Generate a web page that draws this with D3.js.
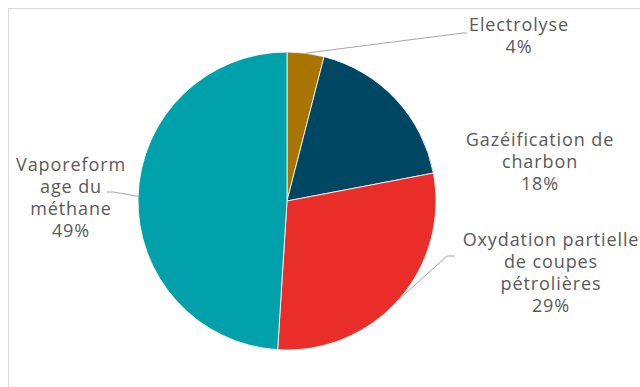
<!DOCTYPE html>
<html>
<head>
<meta charset="utf-8">
<script src="https://cdn.jsdelivr.net/npm/d3@7/dist/d3.min.js"></script>
<style>
  html, body { margin: 0; padding: 0; background: #fff; }
  svg { display: block; }
</style>
</head>
<body>
<svg id="chart" width="640" height="387"></svg>
<script>
// Hydrogen production routes, share of output
const categories = ["Electrolyse", "Gazéification de charbon", "Oxydation partielle de coupes pétrolières", "Vaporeformage du méthane"];
const values = [4, 18, 29, 49];
const labelLines = [
  ["Electrolyse"],
  ["Gazéification de", "charbon"],
  ["Oxydation partielle", "de coupes", "pétrolières"],
  ["Vaporeform", "age du", "méthane"]
];
const colors = ["#a87503", "#004764", "#e92e29", "#00a1aa"];

// label block layout: centre x, first baseline y, leader elbow (x, y), horizontal tail end x
const labelLayout = [
  { x: 519, y: 30.5, elbow: [463, 33], tailX: 467 },
  { x: 540, y: 146, elbow: null },
  { x: 551, y: 246, elbow: [447, 256], tailX: 455 },
  { x: 71, y: 170.5, elbow: [113, 192], tailX: 107 }
];

const width = 640, height = 387;
const cx = 287, cy = 201, radius = 149;
const svg = d3.select("#chart");

// frame
svg.append("rect")
  .attr("x", 8.5).attr("y", 8.5)
  .attr("width", 640).attr("height", 400)
  .attr("fill", "none")
  .attr("stroke", "#d9d9d9")
  .attr("stroke-width", 1);

const pie = d3.pie().sort(null).value(d => d)(values);
const arc = d3.arc().innerRadius(0).outerRadius(radius);

const g = svg.append("g").attr("transform", `translate(${cx},${cy})`);

g.selectAll("path.slice")
  .data(pie)
  .join("path")
  .attr("class", "slice")
  .attr("d", arc)
  .attr("fill", (d, i) => colors[i])
  .attr("stroke", "#fff")
  .attr("stroke-width", 0.8);

// leader lines from slice edge at mid-angle
pie.forEach((d, i) => {
  const L = labelLayout[i];
  if (!L.elbow) return;
  const a = (d.startAngle + d.endAngle) / 2;
  const sx = cx + radius * Math.sin(a);
  const sy = cy - radius * Math.cos(a);
  const [ex, ey] = L.elbow;
  svg.append("polyline")
    .attr("points", `${sx},${sy} ${ex},${ey} ${L.tailX},${ey}`)
    .attr("fill", "none")
    .attr("stroke", "#a6a6a6")
    .attr("stroke-width", 1);
});

// labels
const lineH = 22;
pie.forEach((d, i) => {
  const L = labelLayout[i];
  const t = svg.append("text")
    .attr("text-anchor", "middle")
    .attr("font-family", "'Open Sans', sans-serif")
    .attr("font-size", 18)
    .attr("letter-spacing", 0.9)
    .attr("fill", "#595959");
  const lines = labelLines[i].concat([values[i] + "%"]);
  lines.forEach((s, k) => {
    t.append("tspan").attr("x", L.x).attr("y", L.y + k * lineH).text(s);
  });
});
</script>
</body>
</html>
